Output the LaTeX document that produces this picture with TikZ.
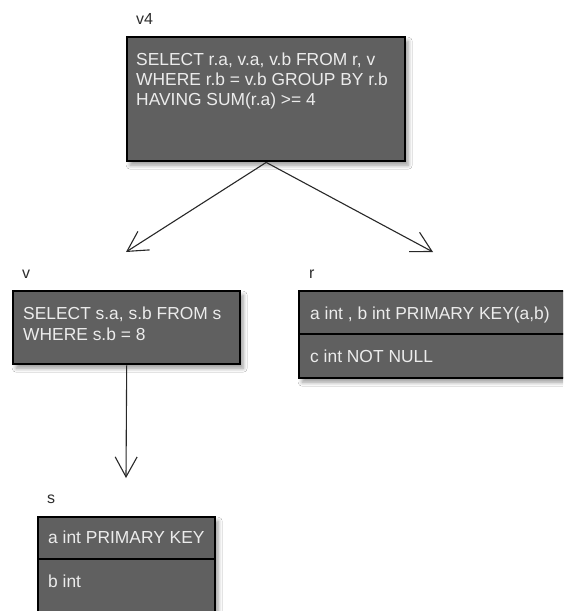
\documentclass[tikz,border=0pt]{standalone}
\usepackage{fontspec}
\setmainfont{Liberation Sans}
\usetikzlibrary{arrows.meta,shadows.blur}
\definecolor{boxfill}{RGB}{96,96,96}
\definecolor{boxtext}{RGB}{236,236,236}
\definecolor{tagtext}{RGB}{45,45,45}
\definecolor{linkcol}{RGB}{40,40,40}
\tikzset{
  box/.style={draw=black, line width=2.4pt, fill=boxfill, rectangle, anchor=north west, inner sep=0pt,
    blur shadow={shadow xshift=3pt, shadow yshift=-4pt, shadow opacity=40, shadow blur steps=6, shadow blur radius=4pt}},
  divider/.style={draw=black, line width=2.2pt},
  txt/.style={text=boxtext, anchor=base west, inner sep=0pt, font=\fontsize{17.4}{20}\selectfont},
  tag/.style={text=tagtext, anchor=base west, inner sep=0pt, font=\fontsize{16}{18}\selectfont},
  link/.style={draw=linkcol, line width=1.1pt, -{Straight Barb[length=20pt, width=22pt, line width=1.1pt]}},
}
\begin{document}
\begin{tikzpicture}[x=1pt, y=-1pt]
\useasboundingbox (0,0) rectangle (563,611);
\fill[white] (0,0) rectangle (563,611);
\begin{scope}
\clip (0,0) rectangle (563,611);

% view v4
\node[tag] (v4tag) at (136,24) {v4};
\node[box, minimum width=278pt, minimum height=124pt] (v4box) at (126,36) {};
\node[txt] (v4a) at (136,65) {SELECT r.a, v.a, v.b FROM r, v};
\node[txt] (v4b) at (136,85) {WHERE r.b = v.b GROUP BY r.b};
\node[txt] (v4c) at (136,105) {HAVING SUM(r.a) >= 4};

% view v
\node[tag] (vtag) at (22,278) {v};
\node[box, minimum width=227pt, minimum height=73pt] (vbox) at (12,290) {};
\node[txt] (va) at (23,319) {SELECT s.a, s.b FROM s};
\node[txt] (vb) at (23,340) {WHERE s.b = 8};

% table r
\node[tag] (rtag) at (309,278) {r};
\node[box, minimum width=290pt, minimum height=87pt] (rbox) at (298,290) {};
\draw[divider] (rbox.west |- 0,334) -- (rbox.east |- 0,334);
\node[txt] (ra) at (310,319) {a int , b int PRIMARY KEY(a,b)};
\node[txt] (rb) at (310,362) {c int NOT NULL};

% table s
\node[tag] (stag) at (47,503) {s};
\node[box, minimum width=177pt, minimum height=110pt] (sbox) at (37,516) {};
\draw[divider] (sbox.west |- 0,559) -- (sbox.east |- 0,559);
\node[txt] (sa) at (48,543) {a int PRIMARY KEY};
\node[txt] (sb) at (48,587) {b int};
\end{scope}

% dependency links
\coordinate (vtip) at (126,252);
\coordinate (rtip) at (433,252);
\coordinate (stip) at (126,478);
\draw[link] (v4box.south) -- (vtip);
\draw[link] (v4box.south) -- (rtip);
\draw[link] (vbox.south) -- (stip);
\end{tikzpicture}
\end{document}
